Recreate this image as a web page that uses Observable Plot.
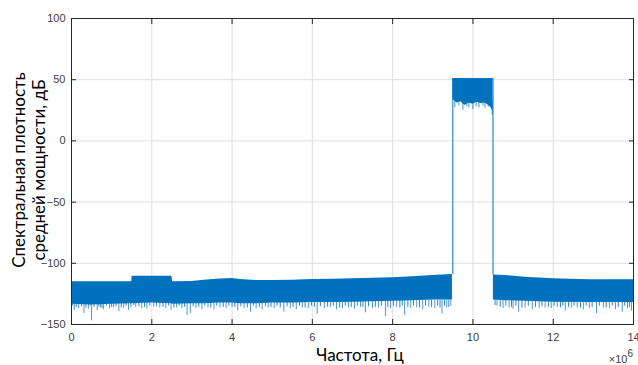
<!DOCTYPE html>
<html><head><meta charset="utf-8">
<script src="https://cdn.jsdelivr.net/npm/d3@7"></script>
<script src="https://cdn.jsdelivr.net/npm/@observablehq/plot@0.6"></script>
<style>
body{margin:0;background:#fff}
#chart{width:638px;height:365px;overflow:hidden}
</style>
</head><body><div id="chart"></div>
<script>
// Frequency in units of 10^6 Hz, levels in dB
const xTicks = [0, 2, 4, 6, 8, 10, 12, 14];
const yTicks = [-150, -100, -50, 0, 50, 100];

// Noise floor below the signal band (0 … 9.5)
const leftFreq   = [0, 0.5, 1.0, 1.5, 1.51, 2.0, 2.5, 2.52, 3.0, 3.3, 3.7, 4.0, 4.2, 4.6, 5.0, 5.5, 6.0, 6.5, 7.0, 7.5, 8.0, 8.5, 9.0, 9.49];
const leftTop    = [-115, -115, -115, -115, -110.5, -110.5, -110.5, -115, -114.8, -113.8, -112.8, -112.5, -113.3, -114, -114, -113.8, -113.2, -113, -112.7, -112.3, -111.9, -111, -110, -109.2];
const leftBottom = [-133.5, -134, -133.5, -133, -133, -132.5, -133, -133.5, -133, -133, -132.5, -132.5, -133, -133, -132.5, -132.5, -132, -132, -131.8, -131.5, -131, -130.5, -130, -130];

// Noise floor above the signal band (10.5 … 14)
const rightFreq   = [10.51, 10.8, 11.3, 12.0, 12.9, 13.5, 14.0];
const rightTop    = [-109.5, -110, -111.3, -112.7, -113.5, -113.5, -113.5];
const rightBottom = [-130, -130.5, -131, -131.8, -132, -132, -132];

// Signal band (9.5 … 10.5)
const bandFreq   = [9.5, 9.6, 9.7, 9.8, 9.9, 10.0, 10.1, 10.2, 10.3, 10.4, 10.45, 10.5];
const bandTop    = [51, 51, 51, 51, 51, 51, 51, 51, 51, 51, 51, 51];
const bandBottom = [34, 31, 32, 29, 31, 30, 31.5, 30.5, 31, 29, 27, 24];
const bandSpikeFreq  = [9.55, 9.65, 9.75, 9.85, 9.9, 10.0, 10.08, 10.15, 10.25, 10.3, 10.38, 10.48];
const bandSpikeDepth = [27, 28.5, 25, 28, 27, 25.5, 28, 27, 28.5, 26.5, 27.5, 21];
const bandSpikeBase  = 33;

// Edge transitions of the band
const edgeFreq = [9.5, 10.5];
const edgeLow  = [-109.2, -109.5];
const edgeHigh = [51, 51];

// Deep downward noise spikes
const spikeFreq  = [0.07, 0.18, 0.31, 0.42, 0.50, 0.64, 0.72, 0.80, 0.95, 1.05, 1.18, 1.30, 1.42, 1.60, 1.75, 1.88, 2.05, 2.20, 2.35, 2.48, 2.62, 2.75, 2.88, 2.96, 3.10, 3.25, 3.40, 3.55, 3.70, 3.85, 4.00, 4.14, 4.30, 4.46, 4.60, 4.75, 4.90, 5.05, 5.29, 5.45, 5.60, 5.75, 5.90, 6.12, 6.30, 6.45, 6.60, 6.75, 6.90, 7.05, 7.20, 7.32, 7.50, 7.65, 7.82, 7.95, 8.10, 8.30, 8.45, 8.60, 8.75, 8.90, 9.05, 9.23, 9.35, 9.45, 10.60, 10.75, 10.90, 11.00, 11.14, 11.30, 11.48, 11.65, 11.80, 11.95, 12.10, 12.30, 12.45, 12.60, 12.75, 12.90, 13.08, 13.25, 13.40, 13.55, 13.72, 13.85, 13.95];
const spikeDepth = [-138.6, -137, -141, -137.5, -147, -138.6, -136.5, -138, -137, -136.5, -139.5, -137, -138.5, -136, -137, -137.5, -136, -136.5, -137, -138.5, -136.5, -137, -142.6, -141, -137, -138, -136.5, -138, -136.5, -137, -136, -139, -137, -140, -137, -138, -136.5, -137, -140, -137, -138, -136.5, -137, -141.4, -137, -136, -138, -137, -136.5, -137.5, -136, -140.5, -137, -136.5, -143.5, -137, -136, -142.6, -137, -136.5, -138, -136, -137, -141.4, -136.5, -135, -135, -137, -136.5, -137.5, -140, -136.5, -138, -137, -136.5, -137, -136, -139, -137, -136.5, -138, -137, -141.4, -136.5, -137, -138, -140, -137, -139];

// Shallow downward noise spikes (fringe of the band)
const shallowFreq  = [0.03, 0.12, 0.25, 0.36, 0.46, 0.56, 0.68, 0.76, 0.87, 1.00, 1.11, 1.24, 1.36, 1.48, 1.55, 1.68, 1.82, 1.95, 2.12, 2.28, 2.42, 2.55, 2.68, 2.82, 3.03, 3.17, 3.32, 3.47, 3.62, 3.78, 3.92, 4.07, 4.22, 4.38, 4.53, 4.68, 4.83, 4.97, 5.12, 5.20, 5.37, 5.52, 5.68, 5.82, 5.98, 6.05, 6.20, 6.38, 6.52, 6.68, 6.82, 6.97, 7.12, 7.26, 7.40, 7.57, 7.72, 7.88, 8.02, 8.18, 8.24, 8.38, 8.52, 8.67, 8.82, 8.97, 9.12, 9.18, 9.29, 9.40, 10.55, 10.68, 10.82, 10.96, 11.07, 11.22, 11.38, 11.56, 11.72, 11.88, 12.02, 12.18, 12.24, 12.38, 12.52, 12.68, 12.82, 12.97, 13.15, 13.32, 13.47, 13.62, 13.78, 13.90];
const shallowDepth = [-135, -136, -135.5, -136.5, -135, -136, -135.5, -137, -135, -136, -135.5, -136.5, -135, -136, -134.5, -135.5, -136, -135, -135.5, -136, -135, -136.5, -135, -136, -135.5, -136, -135, -136.5, -135, -136, -135, -136, -135.5, -136.5, -135, -136, -135.5, -136, -135, -136.5, -135.5, -136, -135, -136.5, -135, -136, -135.5, -136, -135, -136.5, -135, -136, -135, -136, -135.5, -136, -135, -136, -135, -136.5, -135, -136, -135, -136.5, -135, -136, -135, -136.5, -135, -136, -134.5, -136, -135, -136, -135, -136.5, -135, -136, -135.5, -136, -135, -136.5, -135, -136, -135, -136.5, -135, -136, -135, -136.5, -135, -136, -135, -136];
const spikeBase = -130;

const blue = "#0072BD";

const noise = [
  ...leftFreq.map((f, i) => ({f, hi: leftTop[i], lo: leftBottom[i], seg: "L"})),
  ...rightFreq.map((f, i) => ({f, hi: rightTop[i], lo: rightBottom[i], seg: "R"}))
];
const band = bandFreq.map((f, i) => ({f, hi: bandTop[i], lo: bandBottom[i]}));
const spikes = spikeFreq.map((f, i) => ({f, d: spikeDepth[i]}));
const shallow = shallowFreq.map((f, i) => ({f, d: shallowDepth[i]}));
const bandSpikes = bandSpikeFreq.map((f, i) => ({f, d: bandSpikeDepth[i]}));
const edges = edgeFreq.map((f, i) => ({f, lo: edgeLow[i], hi: edgeHigh[i]}));

const chart = Plot.plot({
  width: 638, height: 365,
  marginLeft: 71, marginRight: 5, marginTop: 18, marginBottom: 41,
  style: {fontFamily: "'Liberation Sans', Arial, sans-serif", fontSize: "11px", color: "#404040", background: "#fff", overflow: "visible"},
  x: {domain: [0, 14]},
  y: {domain: [-150, 100]},
  marks: [
    Plot.gridX(xTicks, {stroke: "#dfdfdf", strokeOpacity: 1}),
    Plot.gridY(yTicks, {stroke: "#dfdfdf", strokeOpacity: 1}),
    Plot.ruleX(spikes, {x: "f", y1: spikeBase, y2: "d", stroke: blue, strokeWidth: 0.9, strokeOpacity: 0.8}),
    Plot.ruleX(shallow, {x: "f", y1: spikeBase, y2: "d", stroke: blue, strokeWidth: 1, strokeOpacity: 0.85}),
    Plot.areaY(noise, {x: "f", y1: "lo", y2: "hi", z: "seg", fill: blue}),
    Plot.ruleX(bandSpikes, {x: "f", y1: bandSpikeBase, y2: "d", stroke: blue, strokeWidth: 0.9, strokeOpacity: 0.85}),
    Plot.areaY(band, {x: "f", y1: "lo", y2: "hi", fill: blue}),
    Plot.ruleX(edges, {x: "f", y1: "lo", y2: "hi", stroke: blue, strokeWidth: 1}),
    Plot.frame({stroke: "#262626"}),
    Plot.axisX(xTicks, {anchor: "bottom", tickSize: -5, tickPadding: 14, stroke: "#262626", label: null}),
    Plot.axisX(xTicks, {anchor: "top", tickSize: -5, tickFormat: () => "", stroke: "#262626", label: null}),
    Plot.axisY(yTicks, {anchor: "left", tickSize: -5, tickPadding: 11, stroke: "#262626", label: null}),
    Plot.axisY(yTicks, {anchor: "right", tickSize: -5, tickFormat: () => "", stroke: "#262626", label: null})
  ]
});

document.getElementById("chart").appendChild(chart);

const svg = d3.select(chart);
const labelFont = "Lato, 'Open Sans', sans-serif";
svg.append("text")
  .attr("x", 360).attr("y", 361)
  .attr("text-anchor", "middle")
  .style("font-family", labelFont).style("font-size", "17px").attr("fill", "#000")
  .text("Частота, Гц");
const yl = svg.append("text")
  .attr("transform", "translate(25,170) rotate(-90)")
  .attr("text-anchor", "middle")
  .style("font-family", labelFont).style("font-size", "17px").attr("fill", "#000");
yl.append("tspan").attr("x", 0).attr("dy", 0).text("Спектральная плотность");
yl.append("tspan").attr("x", 0).attr("dy", 20).text("средней мощности, дБ");
const ex = svg.append("text")
  .attr("x", 633).attr("y", 363)
  .attr("text-anchor", "end")
  .style("font-family", "'Liberation Sans', Arial, sans-serif").style("font-size", "11px").attr("fill", "#404040");
ex.append("tspan").text("×10");
ex.append("tspan").attr("dy", -6).style("font-size", "10px").text("6");
</script>
</body></html>
